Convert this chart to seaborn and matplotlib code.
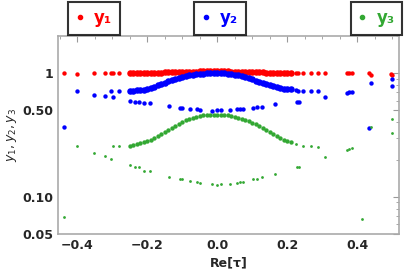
import numpy as np
import pandas as pd
import matplotlib
matplotlib.use('Agg')
import matplotlib.pyplot as plt
from matplotlib.ticker import FixedLocator, FixedFormatter
from matplotlib.lines import Line2D
import seaborn as sns

sns.set_style('white')
plt.rcParams['font.family'] = ['DejaVu Sans']

# dense part of the three curves, read at Re[tau] = -0.25 ... 0.21
x_main = np.round(np.arange(-0.25, 0.215, 0.01), 2)
y1_main = [1.0, 1.0, 1.0, 1.0, 1.0, 1.005, 1.005, 1.01, 1.01, 1.01,
           1.015, 1.015, 1.02, 1.02, 1.02, 1.025, 1.025, 1.03, 1.03, 1.03,
           1.035, 1.035, 1.035, 1.035, 1.035, 1.035, 1.035, 1.035, 1.035, 1.03,
           1.03, 1.03, 1.025, 1.025, 1.02, 1.02, 1.02, 1.015, 1.015, 1.01,
           1.01, 1.01, 1.005, 1.005, 1.0, 1.0, 1.0]
y2_main = [0.72, 0.72, 0.725, 0.73, 0.735, 0.745, 0.765, 0.78, 0.80, 0.82,
           0.84, 0.86, 0.88, 0.90, 0.92, 0.93, 0.945, 0.96, 0.97, 0.98,
           0.985, 0.99, 0.995, 1.0, 1.0, 1.0, 1.0, 0.995, 0.99, 0.98,
           0.97, 0.96, 0.945, 0.93, 0.91, 0.89, 0.87, 0.85, 0.835, 0.82,
           0.805, 0.79, 0.78, 0.765, 0.75, 0.745, 0.74]
y3_main = [0.26, 0.262, 0.265, 0.27, 0.277, 0.283, 0.29, 0.30, 0.31, 0.32,
           0.333, 0.347, 0.36, 0.375, 0.39, 0.405, 0.415, 0.425, 0.435, 0.443,
           0.45, 0.455, 0.458, 0.46, 0.462, 0.463, 0.462, 0.46, 0.455, 0.45,
           0.443, 0.435, 0.427, 0.42, 0.41, 0.397, 0.386, 0.373, 0.36, 0.347,
           0.333, 0.32, 0.31, 0.30, 0.29, 0.282, 0.275]

# second (lower) branch of y2 and y3
x_low = [-0.249, -0.234, -0.225, -0.209, -0.191, -0.139, -0.106, -0.1, -0.077, -0.058,
         -0.05, -0.015, 0.0, 0.01, 0.035, 0.056, 0.066, 0.075, 0.101, 0.113,
         0.128, 0.166, 0.229, 0.235]
y2_low = [0.60, 0.59, 0.59, 0.57, 0.57, 0.54, 0.526, 0.526, 0.515, 0.51,
          0.505, 0.496, 0.5, 0.505, 0.505, 0.51, 0.515, 0.515, 0.52, 0.53,
          0.537, 0.56, 0.59, 0.59]
y3_low = [0.18, 0.173, 0.173, 0.162, 0.162, 0.144, 0.139, 0.138, 0.134, 0.131,
          0.13, 0.128, 0.125, 0.128, 0.127, 0.13, 0.131, 0.132, 0.139, 0.14,
          0.144, 0.152, 0.173, 0.173]

# scattered outer points
x1_out = [-0.437, -0.401, -0.351, -0.32, -0.303, -0.298, -0.28, 0.226, 0.232, 0.245,
          0.268, 0.287, 0.309, 0.37, 0.377, 0.385, 0.434, 0.44, 0.497, 0.5]
y1_out = [1.0, 0.98, 1.0, 1.0, 1.0, 1.0, 1.0, 1.0, 1.0, 1.0,
          1.0, 1.0, 1.0, 1.0, 1.0, 1.0, 1.0, 0.97, 0.98, 0.97]
x2_out = [-0.437, -0.401, -0.351, -0.32, -0.303, -0.298, -0.28, 0.226, 0.232, 0.245,
          0.268, 0.287, 0.309, 0.37, 0.377, 0.385, 0.434, 0.44, 0.5, 0.5]
y2_out = [0.37, 0.714, 0.67, 0.65, 0.72, 0.64, 0.72, 0.73, 0.72, 0.72,
          0.72, 0.72, 0.64, 0.69, 0.70, 0.70, 0.363, 0.84, 0.90, 0.79]
x3_out = [-0.439, -0.401, -0.351, -0.32, -0.303, -0.298, -0.28, 0.226, 0.245, 0.268,
          0.287, 0.309, 0.37, 0.377, 0.385, 0.413, 0.44, 0.5, 0.5]
y3_out = [0.068, 0.26, 0.226, 0.214, 0.203, 0.26, 0.26, 0.266, 0.26, 0.26,
          0.255, 0.209, 0.24, 0.245, 0.25, 0.066, 0.365, 0.43, 0.33]

red = '#ff0000'
blue = '#0000ff'
green = '#33a833'

main = pd.DataFrame({'x': x_main, 'y1': y1_main, 'y2': y2_main, 'y3': y3_main})
low = pd.DataFrame({'x': x_low, 'y2': y2_low, 'y3': y3_low})

fig = plt.figure(figsize=(4.09, 2.73), dpi=100)
ax = fig.add_axes([0.142, 0.143, 0.834, 0.725])

# y1
sns.scatterplot(data=main, x='x', y='y1', color=red, s=22, linewidth=0, ax=ax)
sns.scatterplot(x=x1_out, y=y1_out, color=red, s=10, linewidth=0, ax=ax)
# y2
sns.scatterplot(data=main, x='x', y='y2', color=blue, s=22, linewidth=0, ax=ax)
sns.scatterplot(data=low, x='x', y='y2', color=blue, s=10, linewidth=0, ax=ax)
sns.scatterplot(x=x2_out, y=y2_out, color=blue, s=10, linewidth=0, ax=ax)
# y3
sns.scatterplot(data=main, x='x', y='y3', color=green, s=10, linewidth=0, ax=ax)
sns.scatterplot(data=low, x='x', y='y3', color=green, s=4, linewidth=0, ax=ax)
sns.scatterplot(x=x3_out, y=y3_out, color=green, s=4, linewidth=0, ax=ax)

ax.set_yscale('log')
ax.set_xlim(-0.455, 0.52)
ax.set_ylim(0.05, 2.0)

ax.xaxis.set_major_locator(FixedLocator([-0.4, -0.2, 0.0, 0.2, 0.4]))
ax.xaxis.set_major_formatter(FixedFormatter(['−0.4', '−0.2', '0.0', '0.2', '0.4']))
ax.xaxis.set_minor_locator(FixedLocator(np.round(np.arange(-0.45, 0.52, 0.05), 2)))
ax.yaxis.set_major_locator(FixedLocator([0.05, 0.1, 0.5, 1.0]))
ax.yaxis.set_major_formatter(FixedFormatter(['0.05', '0.10', '0.50', '1']))
ax.yaxis.set_minor_locator(FixedLocator([0.06, 0.07, 0.08, 0.09, 0.2, 0.3, 0.4,
                                         0.6, 0.7, 0.8, 0.9, 2.0]))
ax.yaxis.set_minor_formatter(FixedFormatter([''] * 12))

ax.tick_params(which='both', direction='in', top=True, right=True, color='#999999',
               labelsize=9)
ax.tick_params(which='major', length=4, width=0.8)
ax.tick_params(which='minor', length=2.5, width=0.6)
for lab in ax.get_xticklabels() + ax.get_yticklabels():
    lab.set_fontweight('bold')
for sp in ax.spines.values():
    sp.set_color('#aaaaaa')
    sp.set_linewidth(1.2)

ax.set_xlabel('Re[τ]', fontsize=9, fontweight='bold', labelpad=3)
ax.set_ylabel('$y_1,y_2,y_3$', fontsize=9, labelpad=2)

# three separate legend boxes above the frame
items = [('y₁', red, 0.230), ('y₂', blue, 0.538), ('y₃', green, 0.920)]
for label, col, cx in items:
    h = Line2D([], [], marker='o', linestyle='none', color=col, markersize=3)
    leg = fig.legend(handles=[h], labels=[label], loc='center',
                     bbox_to_anchor=(cx, 0.934), frameon=True, fancybox=False,
                     edgecolor='black', handlelength=0.5, handletextpad=0.6,
                     borderpad=0.45, borderaxespad=0,
                     prop={'weight': 'bold', 'size': 12})
    leg.get_frame().set_linewidth(1.5)
    for t in leg.get_texts():
        t.set_color(col)

fig.savefig('out.png', dpi=100)
